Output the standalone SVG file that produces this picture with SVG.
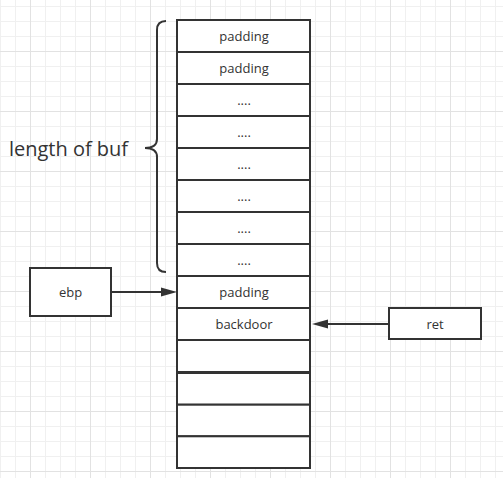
<svg xmlns="http://www.w3.org/2000/svg" width="503" height="478" viewBox="0 0 503 478">
  <defs>
    <pattern id="minor" x="0" y="6" width="15" height="15" patternUnits="userSpaceOnUse">
      <path d="M0.5 0V15M0 0.5H15" fill="none" stroke="#f0f0f0" stroke-width="1"/>
    </pattern>
    <pattern id="major" x="30" y="51" width="60" height="60" patternUnits="userSpaceOnUse">
      <path d="M0.5 0V60M0 0.5H60" fill="none" stroke="#e2e2e2" stroke-width="1"/>
    </pattern>
    <marker id="arrow" viewBox="0 0 16 10" refX="0" refY="5" markerWidth="16" markerHeight="10" markerUnits="userSpaceOnUse" orient="auto">
      <path d="M0 0.5L16 5L0 9.5Z" fill="#333"/>
    </marker>
    <style>
      .cell { fill: #fff; stroke: #333; stroke-width: 2; }
      .box { fill: #fff; stroke: #333; stroke-width: 2; }
      .t { font-family: "Open Sans", "Noto Sans", sans-serif; font-size: 13px; fill: #333; text-anchor: middle; dominant-baseline: central; }
      .big { font-family: "Open Sans", "Noto Sans", sans-serif; font-size: 20px; fill: #333; text-anchor: middle; dominant-baseline: central; }
      .conn { fill: none; stroke: #333; stroke-width: 2; }
    </style>
  </defs>
  <rect width="503" height="478" fill="#fff"/>
  <rect width="503" height="478" fill="url(#minor)"/>
  <rect width="503" height="478" fill="url(#major)"/>

  <g id="stack">
    <rect class="cell" x="177" y="20" width="133" height="32"/>
    <rect class="cell" x="177" y="52" width="133" height="32"/>
    <rect class="cell" x="177" y="84" width="133" height="32"/>
    <rect class="cell" x="177" y="116" width="133" height="32"/>
    <rect class="cell" x="177" y="148" width="133" height="32"/>
    <rect class="cell" x="177" y="180" width="133" height="32"/>
    <rect class="cell" x="177" y="212" width="133" height="32"/>
    <rect class="cell" x="177" y="244" width="133" height="32"/>
    <rect class="cell" x="177" y="276" width="133" height="32"/>
    <rect class="cell" x="177" y="308" width="133" height="32"/>
    <rect class="cell" x="177" y="340" width="133" height="32"/>
    <text class="t" x="244" y="36">padding</text>
    <text class="t" x="244" y="68">padding</text>
    <text class="t" x="244" y="100">....</text>
    <text class="t" x="244" y="132">....</text>
    <text class="t" x="244" y="164">....</text>
    <text class="t" x="244" y="196">....</text>
    <text class="t" x="244" y="228">....</text>
    <text class="t" x="244" y="260">....</text>
    <text class="t" x="244" y="292">padding</text>
    <text class="t" x="244" y="324">backdoor</text>
  </g>
  <g id="stack-lower">
    <rect class="cell" x="177" y="373" width="133" height="31.7"/>
    <rect class="cell" x="177" y="404.7" width="133" height="31.6"/>
    <rect class="cell" x="177" y="436.3" width="133" height="31.7"/>
  </g>

  <g id="brace">
    <path class="conn" d="M166 21Q157 21 157 30V139Q157 148 145 148Q157 148 157 157V263Q157 272 166 272"/>
    <text class="big" x="68.5" y="148">length of buf</text>
  </g>

  <g id="ebp">
    <rect class="box" x="30" y="268" width="81" height="48"/>
    <text class="t" x="70.5" y="292">ebp</text>
  </g>

  <g id="ret">
    <rect class="box" x="389" y="308" width="92" height="31"/>
    <text class="t" x="435" y="323.5">ret</text>
  </g>

  <g id="connectors">
    <path class="conn" d="M111 292H161" marker-end="url(#arrow)"/>
    <path class="conn" d="M389 324H328" marker-end="url(#arrow)"/>
  </g>
</svg>
